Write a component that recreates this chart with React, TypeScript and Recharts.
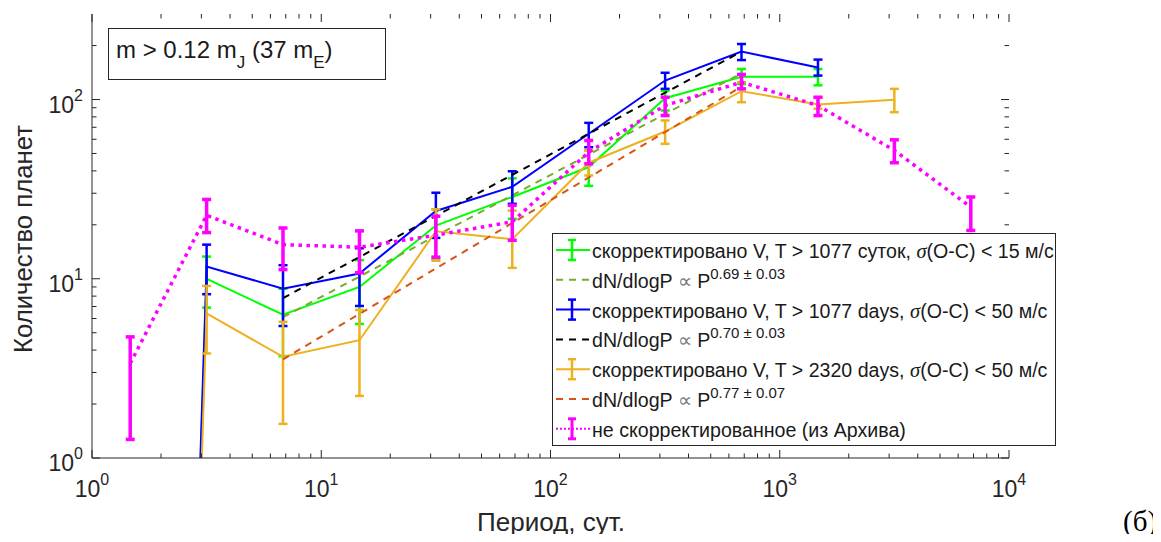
import React from 'react';
import { ComposedChart, Line, XAxis, YAxis, ErrorBar } from 'recharts';

const W = 1145;
const H = 526;
const PL = 84;
const PT = 6;
const PR = 1001;
const PB = 450;
const FONT = '"Liberation Sans", Arial, Helvetica, sans-serif';
const AXC = '#262626';

// bin centres (period, days)
const binPeriods = [1.468, 3.162, 6.81, 14.68, 31.62, 68.1, 146.8, 316.2, 681, 1468, 3162, 6813];

// corrected, T > 1077 суток, sigma < 15 m/s
const greenVals = [1e-12, 10.0, 6.3, 9.0, 19.8, 28.6, 42, 101.7, 134, 134];
const greenLo = [null, 6.9, 3.7, 5.6, 12.9, 21.6, 33, 86.8, 122, 120];
const greenHi = [null, 13.3, 8.8, 12.7, 24.4, 36.3, 52, 112, 148, 148];

// corrected, T > 1077 days, sigma < 50 m/s
const blueVals = [1e-12, 11.7, 8.8, 10.7, 23.9, 32.6, 64.4, 127.6, 185, 151];
const blueLo = [null, 8.2, 5.45, 7.05, 16.9, 26.2, 54.2, 114.7, 166, 136];
const blueHi = [null, 15.5, 11.9, 14.8, 30.2, 39.8, 74.1, 141, 204, 167];

// corrected, T > 2320 days, sigma < 50 m/s
const orangeVals = [1e-12, 6.4, 3.67, 4.54, 18.4, 16.6, 44.4, 66.3, 111.3, 93.8, 99.6];
const orangeLo = [null, 3.83, 1.55, 2.22, 12.6, 11.5, 37.7, 56.6, 96.6, 88.7, 85];
const orangeHi = [null, 9.12, 5.75, 6.7, 24.4, 24, 52, 76.4, 125, 103, 114.7];

// uncorrected (archive)
const archiveVals = [3.37, 22.6, 15.5, 15.0, 17.5, 20.8, 50.9, 92.6, 124.9, 92.6, 52, 25.1];
const archiveLo = [1.27, 18.1, 11.25, 10.8, 13.2, 16.4, 43.8, 81.4, 114.7, 81.4, 44.4, 18.6];
const archiveHi = [4.74, 27.7, 19.2, 18.5, 22.3, 25.7, 59.1, 103, 138, 103, 59.6, 28.6];

// power-law fits (end points)
const fitPeriods = [6.81, 681];
const fit069 = [6.1, 140];
const fit070 = [7.8, 185];
const fit077 = [3.55, 118];

const xMajorTicks = [1, 10, 100, 1000, 10000];
const xMinorTicks = [2, 3, 4, 5, 6, 7, 8, 9, 20, 30, 40, 50, 60, 70, 80, 90, 200, 300, 400, 500, 600, 700, 800, 900, 2000, 3000, 4000, 5000, 6000, 7000, 8000, 9000];
const yMajorTicks = [1, 10, 100];
const yMinorTicks = [2, 3, 4, 5, 6, 7, 8, 9, 20, 30, 40, 50, 60, 70, 80, 90, 200];

const build = (vals: number[], lo: (number | null)[], hi: (number | null)[]) =>
  vals.map((v, i) => ({
    x: binPeriods[i],
    y: v,
    err: lo[i] == null ? null : [v - (lo[i] as number), (hi[i] as number) - v],
  }));

const buildFit = (vals: number[]) => vals.map((v, i) => ({ x: fitPeriods[i], y: v }));

const greenData = build(greenVals, greenLo, greenHi);
const blueData = build(blueVals, blueLo, blueHi);
const orangeData = build(orangeVals, orangeLo, orangeHi);
const archiveData = build(archiveVals, archiveLo, archiveHi);

const isMajor = (v: number) => Math.abs(Math.log10(v) - Math.round(Math.log10(v))) < 1e-9;

const XTick = (props: any) => {
  const { x, payload } = props;
  const v = payload.value;
  const major = isMajor(v);
  const L = major ? 8 : 4.5;
  const e = Math.round(Math.log10(v));
  return (
    <g>
      <line x1={x} x2={x} y1={PB} y2={PB - L} stroke={AXC} strokeWidth={1} />
      <line x1={x} x2={x} y1={PT} y2={PT + L} stroke={AXC} strokeWidth={1} />
      {major && (
        <text x={x} y={PB + 39} textAnchor="middle" fill={AXC} fontFamily={FONT}>
          <tspan fontSize={23}>10</tspan>
          <tspan fontSize={16} dy={-12}>{e}</tspan>
        </text>
      )}
    </g>
  );
};

const YTick = (props: any) => {
  const { y, payload } = props;
  const v = payload.value;
  const major = isMajor(v);
  const L = major ? 8 : 4.5;
  const e = Math.round(Math.log10(v));
  return (
    <g>
      <line x1={PL} x2={PL + L} y1={y} y2={y} stroke={AXC} strokeWidth={1} />
      <line x1={PR} x2={PR - L} y1={y} y2={y} stroke={AXC} strokeWidth={1} />
      {major && (
        <text x={PL - 9} y={y + 13} textAnchor="end" fill={AXC} fontFamily={FONT}>
          <tspan fontSize={23}>10</tspan>
          <tspan fontSize={16} dy={-12}>{e}</tspan>
        </text>
      )}
    </g>
  );
};

type Row = { kind: 'err' | 'dash'; color: string; dash?: string; width: number; parts: any };

const legendRows: Row[] = [
  { kind: 'err', color: '#00FF00', width: 2, parts: ['скорректировано V, T > 1077 суток, ', 'σ', '(O-C) < 15 м/с'] },
  { kind: 'dash', color: '#77AC30', dash: '7 6', width: 2, parts: ['0.69 ± 0.03'] },
  { kind: 'err', color: '#0000FF', width: 2, parts: ['скорректировано V, T > 1077 days, ', 'σ', '(O-C) < 50 м/с'] },
  { kind: 'dash', color: '#000000', dash: '7 6', width: 2, parts: ['0.70 ± 0.03'] },
  { kind: 'err', color: '#EDB120', width: 2, parts: ['скорректировано V, T > 2320 days, ', 'σ', '(O-C) < 50 м/с'] },
  { kind: 'dash', color: '#D95319', dash: '7 6', width: 2, parts: ['0.77 ± 0.07'] },
  { kind: 'err', color: '#FF00FF', dash: '2 2', width: 2, parts: ['не скорректированное (из Архива)'] },
];

const LFS = 19.6;

const Legend = () => {
  const LX = 544;
  const LY = 225;
  const LW = 503;
  const LH = 212;
  return (
    <g>
      <rect x={LX + 0.5} y={LY + 0.5} width={LW} height={LH} fill="#fff" stroke={AXC} strokeWidth={1} />
      {legendRows.map((r, i) => {
        const cy = LY + 17 + 29.8 * i;
        const isMag = r.color === '#FF00FF';
        return (
          <g key={i}>
            <line x1={LX + 4} x2={LX + 38} y1={cy} y2={cy} stroke={r.color} strokeWidth={r.width} strokeDasharray={r.dash} />
            {r.kind === 'err' && (
              <g stroke={r.color} strokeWidth={isMag ? 3 : 2.5}>
                <line x1={LX + 20} x2={LX + 20} y1={cy - 10} y2={cy + 10} />
                <line x1={LX + 16} x2={LX + 24} y1={cy - 10} y2={cy - 10} />
                <line x1={LX + 16} x2={LX + 24} y1={cy + 10} y2={cy + 10} />
              </g>
            )}
            {r.kind === 'err' ? (
              <text x={LX + 40} y={cy + 8} fontSize={LFS} fontFamily={FONT} fill="#1a1a1a">
                {r.parts.length === 3 ? (
                  <>
                    <tspan>{r.parts[0]}</tspan>
                    <tspan fontFamily='"Liberation Serif", "Times New Roman", serif' fontStyle="italic" fontSize={20.5}>{r.parts[1]}</tspan>
                    <tspan>{r.parts[2]}</tspan>
                  </>
                ) : (
                  <tspan>{r.parts[0]}</tspan>
                )}
              </text>
            ) : (
              <text x={LX + 40} y={cy + 8} fontSize={LFS} fontFamily={FONT} fill="#1a1a1a">
                <tspan>dN/dlogP </tspan>
                <tspan fill="#777">∝</tspan>
                <tspan> P</tspan>
                <tspan fontSize={15} dy={-9}>{r.parts[0]}</tspan>
              </text>
            )}
          </g>
        );
      })}
    </g>
  );
};

export default function App() {
  return (
    <div style={{ position: 'relative', width: W, height: H }}>
      <ComposedChart width={W} height={H} margin={{ top: PT, right: W - PR, bottom: H - PB - 30, left: 0 }}>
        <XAxis
          dataKey="x"
          type="number"
          scale="log"
          domain={[1, 10000]}
          allowDataOverflow
          ticks={[...xMajorTicks, ...xMinorTicks]}
          interval={0}
          tick={<XTick />}
          tickLine={false}
          tickSize={0}
          tickMargin={0}
          height={30}
          axisLine={{ stroke: AXC }}
        />
        <XAxis
          xAxisId="top"
          orientation="top"
          dataKey="x"
          type="number"
          scale="log"
          domain={[1, 10000]}
          allowDataOverflow
          tick={false}
          tickLine={false}
          height={0}
          axisLine={{ stroke: AXC }}
        />
        <YAxis
          type="number"
          scale="log"
          domain={[1, 300]}
          allowDataOverflow
          ticks={[...yMajorTicks, ...yMinorTicks]}
          interval={0}
          tick={<YTick />}
          tickLine={false}
          tickSize={0}
          tickMargin={0}
          width={PL}
          axisLine={{ stroke: AXC }}
        />
        <YAxis
          yAxisId="right"
          orientation="right"
          type="number"
          scale="log"
          domain={[1, 300]}
          allowDataOverflow
          tick={false}
          tickLine={false}
          width={0}
          axisLine={{ stroke: AXC }}
        />
        <Line data={greenData} dataKey="y" stroke="#00FF00" strokeWidth={2} dot={false} activeDot={false} isAnimationActive={false}>
          <ErrorBar dataKey="err" direction="y" width={4.5} stroke="#00FF00" strokeWidth={2.5} />
        </Line>
        <Line data={buildFit(fit069)} dataKey="y" stroke="#77AC30" strokeWidth={2} strokeDasharray="7 6" dot={false} activeDot={false} isAnimationActive={false} />
        <Line data={blueData} dataKey="y" stroke="#0000FF" strokeWidth={2} dot={false} activeDot={false} isAnimationActive={false}>
          <ErrorBar dataKey="err" direction="y" width={4.5} stroke="#0000FF" strokeWidth={2.5} />
        </Line>
        <Line data={buildFit(fit070)} dataKey="y" stroke="#000000" strokeWidth={2} strokeDasharray="7 6" dot={false} activeDot={false} isAnimationActive={false} />
        <Line data={orangeData} dataKey="y" stroke="#EDB120" strokeWidth={2} dot={false} activeDot={false} isAnimationActive={false}>
          <ErrorBar dataKey="err" direction="y" width={4.5} stroke="#EDB120" strokeWidth={2.5} />
        </Line>
        <Line data={buildFit(fit077)} dataKey="y" stroke="#D95319" strokeWidth={2} strokeDasharray="7 6" dot={false} activeDot={false} isAnimationActive={false} />
        <Line data={archiveData} dataKey="y" stroke="#FF00FF" strokeWidth={3.5} strokeDasharray="3.5 4.5" dot={false} activeDot={false} isAnimationActive={false}>
          <ErrorBar dataKey="err" direction="y" width={4.5} stroke="#FF00FF" strokeWidth={3.5} />
        </Line>
      </ComposedChart>
      <svg width={1153} height={H} style={{ position: 'absolute', left: 0, top: 0, overflow: 'visible', pointerEvents: 'none' }}>
        <rect x={100.5} y={20.5} width={277} height={51} fill="#fff" stroke={AXC} strokeWidth={1} />
        <text x={108} y={50} fontSize={24} fontFamily={FONT} fill="#1a1a1a">
          <tspan>m &gt; 0.12 m</tspan>
          <tspan fontSize={17} dy={10}>J</tspan>
          <tspan dy={-10}> (37 m</tspan>
          <tspan fontSize={17} dy={10}>E</tspan>
          <tspan dy={-10}>)</tspan>
        </text>
        <text x={543} y={523} textAnchor="middle" fontSize={25} textLength={148} lengthAdjust="spacingAndGlyphs" fontFamily={FONT} fill={AXC}>Период, сут.</text>
        <text transform="translate(24,231) rotate(-90)" textAnchor="middle" fontSize={25} textLength={228} lengthAdjust="spacingAndGlyphs" fontFamily={FONT} fill={AXC}>Количество планет</text>
        <Legend />
        <text x={1115} y={523} fontSize={29} fontFamily='"Liberation Serif", "Times New Roman", serif' fill="#000">(б)</text>
      </svg>
    </div>
  );
}
